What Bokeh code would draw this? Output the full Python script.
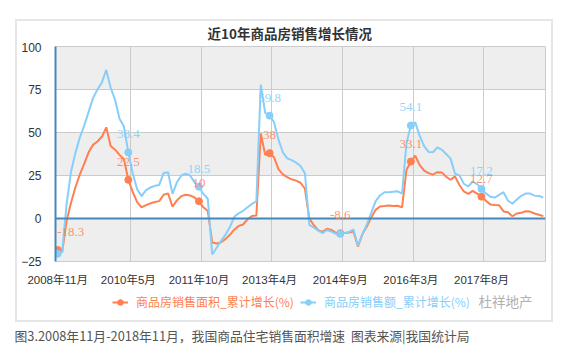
from bokeh.plotting import figure
from bokeh.layouts import column
from bokeh.models import (Range1d, FixedTicker, Span, Label, LabelSet, Legend, LegendItem,
                          BoxAnnotation, ColumnDataSource)
from bokeh.embed import file_html
from bokeh.resources import INLINE

# ---------------- data ----------------
periods = (["2008年11月", "2008年12月"]
           + [f"{y}年{m}月" for y in range(2009, 2018) for m in range(2, 13)]
           + [f"2018年{m}月" for m in range(2, 12)])

area_growth = [
    -18.3, -19.7,
    -1.5, 9.0, 18.0, 25.5, 31.7, 38.5, 42.8, 44.8, 47.5, 53.0, 42.1,
    40.0, 37.0, 34.5, 22.5, 15.4, 9.5, 6.5, 7.8, 8.8, 9.6, 10.1,
    13.8, 14.6, 6.8, 10.5, 13.0, 13.8, 13.4, 12.2, 10.0, 6.5, 4.4,
    -14.0, -14.5, -13.8, -12.0, -9.5, -6.5, -4.3, -3.5, -0.5, 1.5, 1.8,
    49.5, 37.1, 38.0, 35.6, 28.7, 25.7, 24.1, 22.8, 22.0, 20.8, 17.3,
    -0.1, -3.8, -6.8, -7.8, -6.0, -6.6, -8.3, -8.6, -8.5, -8.2, -7.6,
    -16.3, -9.2, -4.8, 0.5, 5.0, 7.0, 7.2, 7.5, 7.2, 7.4, 6.5,
    28.2, 33.1, 36.5, 31.0, 27.9, 26.4, 25.5, 26.9, 26.8, 24.3, 22.5,
    24.5, 19.5, 15.7, 14.3, 16.1, 14.5, 12.7, 10.3, 8.2, 7.9, 7.7,
    4.1, 3.6, 1.3, 2.9, 3.3, 4.2, 4.0, 2.9, 2.2, 1.4,
]

value_growth = [
    -20.5, -19.5,
    8.0, 27.0, 38.0, 47.0, 54.0, 62.0, 70.0, 75.0, 79.0, 86.4, 76.0,
    69.0, 58.0, 53.5, 38.4, 26.0, 17.0, 13.0, 16.5, 18.0, 19.0, 19.5,
    26.5, 26.9, 14.3, 21.0, 25.0, 26.0, 25.0, 21.0, 18.5, 14.3, 11.5,
    -20.9, -17.0, -13.0, -9.5, -5.0, 1.0, 3.0, 4.5, 6.5, 8.5, 10.0,
    77.8, 61.4, 59.8, 56.0, 46.0, 38.5, 35.0, 33.9, 32.5, 30.5, 26.3,
    -3.7, -5.2, -7.0, -8.5, -6.7, -7.6, -8.9, -8.9, -8.4, -7.8, -6.3,
    -15.8, -9.3, -3.6, 3.1, 10.0, 13.4, 15.3, 15.3, 15.6, 15.8, 14.4,
    43.6, 54.1, 55.9, 48.0, 42.1, 38.7, 38.5, 41.3, 40.0, 37.5, 34.8,
    26.0, 25.1, 20.2, 18.6, 21.5, 20.0, 17.2, 14.6, 12.6, 12.2, 13.7,
    15.3, 10.4, 8.6, 11.0, 13.2, 14.5, 14.5, 13.3, 13.1, 12.1,
]

label_idx = [0, 16, 32, 48, 64, 80, 96]          # labelled categories
value_label_idx = [16, 32, 48, 80, 96]           # blue labels visible
y_ticks = [-25, 0, 25, 50, 75, 100]

series_area = "商品房销售面积_累计增长(%)"
series_value = "商品房销售额_累计增长(%)"
title_text = "近10年商品房销售增长情况"
caption_text = "图3.2008年11月-2018年11月，我国商品住宅销售面积增速\u00a0\u00a0图表来源|我国统计局"
watermark_text = "杜祥地产"

# ---------------- style ----------------
ORANGE = "#ff7f50"
BLUE = "#87cefa"
AXIS = "#4488bb"
CJK = "Noto Sans CJK SC"
NUMF = "Liberation Sans, Noto Sans CJK SC"

W = 572
PX0, PX1, PY0, PY1 = 15, 553, 19, 322   # panel box on the page
BW = 2                                  # panel border width
IX0, IX1 = PX0 + BW, PX1 - BW           # inner panel
FL, FR, FT, FB = 55, 545, 46, 261       # plot frame on the page
TOP_GAP = 4                             # chart canvas above its frame
Y_T0 = PY0 + BW                         # title strip top
Y_C0 = FT - TOP_GAP                     # chart canvas top
Y_L0 = 290                              # legend strip top
Y_L1 = PY1 - BW                         # legend strip bottom
x = list(range(len(periods)))
boundaries = [i + 0.5 for i in label_idx[1:]]

def fmt(v):
    return f"{v:g}"

src = ColumnDataSource(dict(x=x, area=area_growth, val=value_growth))
m_area = ColumnDataSource(dict(x=label_idx, y=[area_growth[i] for i in label_idx],
                               t=[fmt(area_growth[i]) for i in label_idx],
                               dx=[13 if i == label_idx[0] else 0 for i in label_idx]))
m_val = ColumnDataSource(dict(x=label_idx, y=[value_growth[i] for i in label_idx]))
l_val = ColumnDataSource(dict(x=value_label_idx, y=[value_growth[i] for i in value_label_idx],
                              t=[fmt(value_growth[i]) for i in value_label_idx]))

def strip(height, xr=(0, 1), yr=(0, 1)):
    f = figure(width=IX1 - IX0, height=height, output_backend="svg", toolbar_location=None,
               x_axis_location=None, y_axis_location=None,
               x_range=Range1d(*xr), y_range=Range1d(*yr), min_border=0)
    f.outline_line_color = None
    f.grid.visible = False
    return f

# ---------------- title strip ----------------
tfig = strip(Y_C0 - Y_T0)
tfig.add_layout(Label(x=207 - FL, y=Y_C0 - 32, x_units="screen", y_units="screen",
                      text=title_text, text_font=CJK, text_font_size="13.5px",
                      text_font_style="bold", text_color="#333333",
                      text_align="left", text_baseline="middle"))

# ---------------- chart ----------------
p = figure(width=IX1 - IX0, height=Y_L0 - Y_C0, output_backend="svg", toolbar_location=None,
           x_range=Range1d(-0.5, len(periods) - 0.5), y_range=Range1d(-25, 100),
           min_border_left=FL - IX0, min_border_right=IX1 - FR,
           min_border_top=TOP_GAP, min_border_bottom=Y_L0 - FB)
p.background_fill_color = "white"
p.border_fill_color = "white"
p.outline_line_color = "#cccccc"

for lo, hi in zip(y_ticks[0::2], y_ticks[1::2]):
    p.add_layout(BoxAnnotation(bottom=lo, top=hi, fill_color="#c8c8c8", fill_alpha=0.3,
                               line_color=None, level="underlay"))

p.ygrid.ticker = FixedTicker(ticks=y_ticks)
p.ygrid.grid_line_color = "#cccccc"
p.xgrid.ticker = FixedTicker(ticks=boundaries)
p.xgrid.grid_line_color = "#cccccc"

p.yaxis.ticker = FixedTicker(ticks=y_ticks)
p.yaxis.axis_line_color = AXIS
p.yaxis.axis_line_width = 2
p.yaxis.major_tick_line_color = None
p.yaxis.minor_tick_line_color = None
p.yaxis.major_label_text_font = NUMF
p.yaxis.major_label_text_font_size = "12px"
p.yaxis.major_label_text_color = "#333333"
p.yaxis.major_label_standoff = 8

p.xaxis.ticker = FixedTicker(ticks=label_idx)
p.xaxis.major_label_overrides = {i: periods[i] for i in label_idx}
p.xaxis.axis_line_color = None
p.xaxis.major_tick_line_color = None
p.xaxis.minor_tick_line_color = None
p.xaxis.major_label_text_font = NUMF
p.xaxis.major_label_text_font_size = "11.5px"
p.xaxis.major_label_text_color = "#333333"
p.xaxis.major_label_standoff = 6

# category axis line drawn on the zero value
p.add_layout(Span(location=0, dimension="width", line_color=AXIS, line_width=2))

p.line("x", "area", source=src, line_color=ORANGE, line_width=2)
p.line("x", "val", source=src, line_color=BLUE, line_width=2)
p.scatter("x", "y", source=m_area, size=7, color=ORANGE)
p.scatter("x", "y", source=m_val, size=7, color=BLUE)

p.add_layout(LabelSet(x="x", y="y", text="t", source=m_area, text_color=ORANGE,
                      text_alpha=0.85, text_font=NUMF, text_font_size="13px",
                      text_align="center", text_baseline="middle", y_offset=18,
                      x_offset="dx"))
p.add_layout(LabelSet(x="x", y="y", text="t", source=l_val, text_color=BLUE,
                      text_alpha=0.9, text_font=NUMF, text_font_size="13px",
                      text_align="center", text_baseline="middle", y_offset=18))

# ---------------- legend strip ----------------
# series are re-plotted here outside the visible window only to feed the legend icons
lg_fig = strip(Y_L1 - Y_L0, xr=(-1000, -900), yr=(-1000, -900))
for key, lab, col, lx in [("area", series_area, ORANGE, 112), ("val", series_value, BLUE, 300)]:
    rl = lg_fig.line("x", key, source=src, line_color=col, line_width=2)
    rs = lg_fig.scatter("x", key, source=src, size=7, color=col)
    lg = Legend(items=[LegendItem(label=lab, renderers=[rl, rs], index=0)],
                location=(lx - FL, (Y_L1 - 302) - 8),
                orientation="horizontal", label_text_color=col, label_text_font=CJK,
                label_text_font_size="12px", background_fill_alpha=0,
                border_line_color=None, padding=0, margin=0, glyph_width=16,
                glyph_height=14, label_standoff=8)
    lg_fig.add_layout(lg)
lg_fig.add_layout(Label(x=478 - FL, y=Y_L1 - 300, x_units="screen", y_units="screen",
                        text=watermark_text, text_font=CJK, text_font_size="13.5px",
                        text_color="#b0b0b0", text_align="left", text_baseline="middle"))

panel = column(tfig, p, lg_fig, margin=(PY0, 0, 0, PX0),
               styles={"border": f"{BW}px solid #e6e6e6"})

# ---------------- caption strip ----------------
H3 = 358 - PY1
cap = figure(width=W, height=H3, output_backend="svg", toolbar_location=None,
             x_axis_location=None, y_axis_location=None,
             x_range=Range1d(0, 1), y_range=Range1d(0, 1), min_border=0)
cap.outline_line_color = None
cap.grid.visible = False
cap.add_layout(Label(x=14, y=H3 - 13, x_units="screen", y_units="screen",
                     text=caption_text, text_font=CJK, text_font_size="12.8px",
                     text_color="#555555", text_align="left", text_baseline="middle"))

layout = column(panel, cap)
open("out.html", "w").write(file_html(layout, INLINE))
